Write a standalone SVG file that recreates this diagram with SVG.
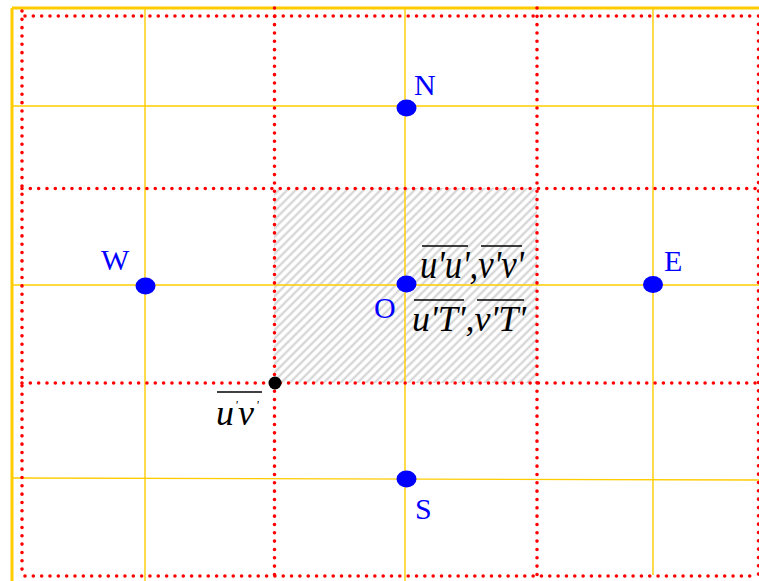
<svg xmlns="http://www.w3.org/2000/svg" width="759" height="581" viewBox="0 0 759 581">
<defs>
<pattern id="hatch" patternUnits="userSpaceOnUse" width="6" height="6" patternTransform="rotate(45)">
<rect width="6" height="6" fill="#ffffff"/>
<line x1="1.5" y1="0" x2="1.5" y2="6" stroke="#d0d0d0" stroke-width="2"/>
</pattern>
</defs>
<style>
.frame{stroke:#ffcc00;stroke-width:3;fill:none}
.grid{stroke:#ffcc00;stroke-width:1.4;fill:none}
.dot{stroke:#ff0000;stroke-width:3.6;stroke-dasharray:0 8.33;stroke-linecap:round;fill:none}
.node{fill:#0000ff}
.lbl{font-family:"Liberation Serif","Times New Roman",serif;font-size:30px;fill:#0000ff}
.math{font-family:"Liberation Serif","Times New Roman",serif;font-style:italic;font-size:36px;fill:#000}
.bar{stroke:#000;stroke-width:1.4}
</style>
<rect width="759" height="581" fill="#ffffff"/>
<rect id="cell" x="274" y="188" width="263" height="195" fill="url(#hatch)"/>
<g id="grid">
<line class="frame" x1="12" y1="8" x2="759" y2="8"/>
<line class="frame" x1="12" y1="8" x2="12" y2="581"/>
<line class="grid" x1="145" y1="8" x2="145" y2="581"/>
<line class="grid" x1="405" y1="8" x2="405" y2="581"/>
<line class="grid" x1="653" y1="8" x2="653" y2="575"/>
<line class="grid" x1="13" y1="106" x2="759" y2="106"/>
<line class="grid" x1="13" y1="285" x2="759" y2="285"/>
<line class="grid" x1="13" y1="478" x2="759" y2="480"/>
<line class="dot" x1="25" y1="16" x2="758" y2="16"/>
<line class="dot" x1="22" y1="188.5" x2="758" y2="188.5"/>
<line class="dot" x1="22" y1="383" x2="758" y2="383"/>
<line class="dot" x1="25" y1="576" x2="758" y2="576"/>
<line class="dot" x1="22" y1="11" x2="22" y2="576"/>
<line class="dot" x1="274.5" y1="8" x2="274.5" y2="576"/>
<line class="dot" x1="537" y1="8" x2="537" y2="576"/>
<line class="dot" x1="758.5" y1="16" x2="758.5" y2="576"/>
</g>
<g id="node-N"><ellipse class="node" cx="406.5" cy="108" rx="10" ry="8.5"/><text class="lbl" x="414" y="95">N</text></g>
<g id="node-W"><ellipse class="node" cx="145.5" cy="286" rx="10" ry="8.5"/><text class="lbl" x="101" y="270">W</text></g>
<g id="node-E"><ellipse class="node" cx="653" cy="284.5" rx="10" ry="8.5"/><text class="lbl" x="664" y="271">E</text></g>
<g id="node-S"><ellipse class="node" cx="406.5" cy="479" rx="10" ry="8.5"/><text class="lbl" x="415" y="519">S</text></g>
<g id="node-O"><ellipse class="node" cx="406.5" cy="284" rx="10" ry="8.5"/><text class="lbl" x="374" y="318">O</text>
<line class="bar" x1="422" y1="246" x2="468" y2="246"/>
<line class="bar" x1="481" y1="246" x2="522" y2="246"/>
<text class="math" transform="translate(420,278) scale(1,1.12)" textLength="104" lengthAdjust="spacingAndGlyphs">u'u',v'v'</text>
<line class="bar" x1="414" y1="300" x2="464" y2="300"/>
<line class="bar" x1="477" y1="300" x2="524" y2="300"/>
<text class="math" x="412" y="331" textLength="114" lengthAdjust="spacingAndGlyphs">u'T',v'T'</text>
</g>
<g id="node-uv"><circle cx="275" cy="383" r="6.5" fill="#000"/>
<line class="bar" x1="217" y1="392" x2="262" y2="392"/>
<text class="math" x="216" y="425">u</text><text class="math" x="238" y="425">v</text>
<text class="math" style="font-size:13px" x="235" y="409">'</text><text class="math" style="font-size:13px" x="256" y="409">'</text>
</g>
</svg>
